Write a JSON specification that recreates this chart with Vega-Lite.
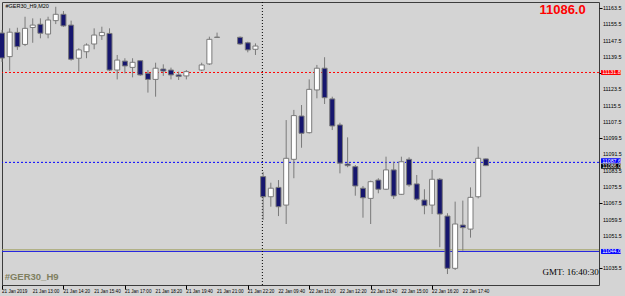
{
  "$schema": "https://vega.github.io/schema/vega-lite/v6.json",
  "width": 597,
  "height": 283,
  "autosize": "none",
  "padding": {"left": 2, "top": 2, "right": 26, "bottom": 11},
  "background": "#d4d4d4",
  "config": {
    "view": {"stroke": "#3c3c3c", "strokeWidth": 1, "fill": "#d4d4d4"},
    "font": "Liberation Sans",
    "scale": {"continuousPadding": 0},
    "axis": {"labels": false, "tickColor": "#000000", "domain": false, "grid": false, "title": null}
  },
  "datasets": {
    "bars": [
      {"i": 0, "o": 11151.2, "h": 11152.7, "l": 11137.0, "c": 11138.9},
      {"i": 1, "o": 11139.6, "h": 11153.5, "l": 11132.7, "c": 11151.6},
      {"i": 2, "o": 11151.5, "h": 11153.8, "l": 11142.9, "c": 11144.5},
      {"i": 3, "o": 11145.6, "h": 11159.2, "l": 11144.8, "c": 11153.5},
      {"i": 4, "o": 11153.9, "h": 11158.4, "l": 11146.4, "c": 11155.1},
      {"i": 5, "o": 11155.5, "h": 11158.4, "l": 11148.6, "c": 11151.1},
      {"i": 6, "o": 11150.7, "h": 11159.2, "l": 11148.6, "c": 11157.6},
      {"i": 7, "o": 11157.3, "h": 11164.1, "l": 11155.6, "c": 11160.4},
      {"i": 8, "o": 11160.4, "h": 11162.0, "l": 11154.2, "c": 11154.7},
      {"i": 9, "o": 11155.1, "h": 11157.3, "l": 11137.6, "c": 11138.3},
      {"i": 10, "o": 11138.8, "h": 11143.7, "l": 11132.2, "c": 11142.9},
      {"i": 11, "o": 11142.0, "h": 11146.1, "l": 11138.8, "c": 11145.3},
      {"i": 12, "o": 11145.8, "h": 11153.5, "l": 11143.2, "c": 11150.2},
      {"i": 13, "o": 11149.9, "h": 11154.3, "l": 11147.8, "c": 11151.5},
      {"i": 14, "o": 11151.0, "h": 11153.5, "l": 11132.5, "c": 11133.0},
      {"i": 15, "o": 11133.0, "h": 11140.4, "l": 11128.4, "c": 11137.9},
      {"i": 16, "o": 11137.4, "h": 11138.8, "l": 11131.4, "c": 11135.0},
      {"i": 17, "o": 11134.3, "h": 11138.8, "l": 11129.4, "c": 11136.8},
      {"i": 18, "o": 11137.6, "h": 11137.9, "l": 11130.1, "c": 11130.6},
      {"i": 19, "o": 11131.4, "h": 11133.0, "l": 11121.9, "c": 11128.4},
      {"i": 20, "o": 11128.4, "h": 11136.6, "l": 11119.9, "c": 11133.9},
      {"i": 21, "o": 11133.5, "h": 11135.8, "l": 11130.1, "c": 11132.5},
      {"i": 22, "o": 11133.0, "h": 11134.2, "l": 11128.4, "c": 11130.6},
      {"i": 23, "o": 11130.6, "h": 11132.2, "l": 11128.1, "c": 11129.8},
      {"i": 24, "o": 11130.1, "h": 11133.0, "l": 11128.4, "c": 11132.2},
      {"i": 26, "o": 11133.0, "h": 11136.6, "l": 11132.5, "c": 11135.5},
      {"i": 27, "o": 11136.0, "h": 11149.4, "l": 11135.5, "c": 11148.1},
      {"i": 28, "o": 11149.0, "h": 11151.4, "l": 11149.0, "c": 11149.2},
      {"i": 31, "o": 11149.1, "h": 11149.5, "l": 11145.3, "c": 11145.8},
      {"i": 32, "o": 11146.4, "h": 11146.9, "l": 11141.7, "c": 11142.9},
      {"i": 33, "o": 11143.2, "h": 11146.1, "l": 11140.4, "c": 11144.8},
      {"i": 34, "o": 11080.6, "h": 11082.9, "l": 11059.3, "c": 11070.7},
      {"i": 35, "o": 11070.7, "h": 11077.6, "l": 11065.8, "c": 11074.9},
      {"i": 36, "o": 11075.3, "h": 11078.9, "l": 11061.2, "c": 11065.8},
      {"i": 37, "o": 11066.6, "h": 11108.4, "l": 11057.3, "c": 11089.6},
      {"i": 38, "o": 11089.1, "h": 11113.4, "l": 11079.8, "c": 11110.6},
      {"i": 39, "o": 11110.4, "h": 11115.8, "l": 11094.8, "c": 11101.9},
      {"i": 40, "o": 11102.2, "h": 11128.4, "l": 11101.8, "c": 11123.5},
      {"i": 41, "o": 11123.2, "h": 11135.5, "l": 11119.1, "c": 11133.9},
      {"i": 42, "o": 11133.9, "h": 11139.3, "l": 11116.3, "c": 11119.4},
      {"i": 43, "o": 11118.8, "h": 11119.9, "l": 11103.5, "c": 11105.5},
      {"i": 44, "o": 11106.0, "h": 11107.1, "l": 11082.2, "c": 11087.2},
      {"i": 45, "o": 11086.8, "h": 11099.9, "l": 11085.2, "c": 11086.0},
      {"i": 46, "o": 11085.5, "h": 11086.3, "l": 11071.2, "c": 11076.0},
      {"i": 47, "o": 11074.9, "h": 11076.0, "l": 11060.4, "c": 11070.2},
      {"i": 48, "o": 11069.9, "h": 11078.6, "l": 11057.3, "c": 11078.1},
      {"i": 49, "o": 11078.9, "h": 11079.8, "l": 11072.4, "c": 11074.4},
      {"i": 50, "o": 11074.4, "h": 11090.4, "l": 11074.0, "c": 11083.9},
      {"i": 51, "o": 11083.9, "h": 11087.9, "l": 11069.6, "c": 11071.1},
      {"i": 52, "o": 11071.9, "h": 11090.4, "l": 11071.6, "c": 11087.9},
      {"i": 53, "o": 11089.1, "h": 11090.1, "l": 11075.6, "c": 11076.5},
      {"i": 54, "o": 11077.0, "h": 11081.4, "l": 11068.8, "c": 11069.5},
      {"i": 55, "o": 11069.1, "h": 11074.4, "l": 11062.1, "c": 11066.3},
      {"i": 56, "o": 11066.6, "h": 11083.9, "l": 11062.2, "c": 11079.3},
      {"i": 57, "o": 11079.3, "h": 11079.9, "l": 11045.9, "c": 11062.2},
      {"i": 58, "o": 11061.2, "h": 11062.6, "l": 11032.7, "c": 11035.5},
      {"i": 59, "o": 11035.5, "h": 11068.3, "l": 11034.7, "c": 11057.3},
      {"i": 60, "o": 11056.8, "h": 11068.8, "l": 11044.2, "c": 11055.5},
      {"i": 61, "o": 11054.8, "h": 11075.3, "l": 11050.6, "c": 11070.4},
      {"i": 62, "o": 11070.7, "h": 11095.3, "l": 11069.9, "c": 11089.6},
      {"i": 63, "o": 11089.3, "h": 11089.5, "l": 11085.8, "c": 11086.0}
    ],
    "xlabels": [
      {"i": 0, "t": "21 Jan 2019"},
      {"i": 4, "t": "21 Jan 13:00"},
      {"i": 8, "t": "21 Jan 14:20"},
      {"i": 12, "t": "21 Jan 15:40"},
      {"i": 16, "t": "21 Jan 17:00"},
      {"i": 20, "t": "21 Jan 18:20"},
      {"i": 24, "t": "21 Jan 19:40"},
      {"i": 28, "t": "21 Jan 21:00"},
      {"i": 32, "t": "21 Jan 22:20"},
      {"i": 36, "t": "22 Jan 09:40"},
      {"i": 40, "t": "22 Jan 11:00"},
      {"i": 44, "t": "22 Jan 12:20"},
      {"i": 48, "t": "22 Jan 13:40"},
      {"i": 52, "t": "22 Jan 15:00"},
      {"i": 56, "t": "22 Jan 16:20"},
      {"i": 60, "t": "22 Jan 17:40"}
    ],
    "ylabels": [
      {"p": 11035.5}, {"p": 11051.5}, {"p": 11059.5}, {"p": 11067.5}, {"p": 11075.5},
      {"p": 11083.5}, {"p": 11091.5}, {"p": 11099.5}, {"p": 11107.5}, {"p": 11115.5},
      {"p": 11123.5}, {"p": 11139.5}, {"p": 11147.5}, {"p": 11155.5}, {"p": 11163.5}
    ],
    "hlines": [
      {"p": 11131.8, "kind": "red"},
      {"p": 11087.6, "kind": "blue"}
    ],
    "solid": [
      {"p": 11044.6, "kind": "olive"},
      {"p": 11043.8, "kind": "bluesolid"}
    ],
    "boxes": [
      {"p": 11131.8, "label": "11131.8", "kind": "red"},
      {"p": 11088.4, "label": "11087.6", "kind": "blue"},
      {"p": 11085.7, "label": "11086.0", "kind": "black"},
      {"p": 11043.8, "label": "11044.0", "kind": "bluesolid"}
    ]
  },
  "layer": [
    {
      "data": {"name": "hlines"},
      "mark": {"type": "rule", "strokeDash": [2, 2], "strokeWidth": 1},
      "encoding": {
        "y": {
          "field": "p", "type": "quantitative",
          "scale": {"domain": [11027.31, 11166.45], "nice": false, "zero": false, "padding": 0},
          "axis": {
            "orient": "right",
            "values": [11035.5, 11043.5, 11051.5, 11059.5, 11067.5, 11075.5, 11083.5, 11091.5, 11099.5, 11107.5, 11115.5, 11123.5, 11131.5, 11139.5, 11147.5, 11155.5, 11163.5],
            "labels": false,
            "tickSize": 3
          }
        },
        "color": {"field": "kind", "type": "nominal", "scale": {"domain": ["red", "blue"], "range": ["#ff0000", "#0000ff"]}, "legend": null}
      }
    },
    {
      "data": {"name": "solid"},
      "mark": {"type": "rule", "strokeWidth": 1},
      "encoding": {
        "y": {"field": "p", "type": "quantitative"},
        "stroke": {"field": "kind", "type": "nominal", "scale": {"domain": ["olive", "bluesolid"], "range": ["#a0a060", "#2020e0"]}, "legend": null}
      }
    },
    {
      "data": {"values": [{"i": 33.9}]},
      "mark": {"type": "rule", "color": "#000000", "strokeDash": [1, 2], "strokeWidth": 1},
      "encoding": {
        "x": {
          "field": "i", "type": "quantitative",
          "scale": {"domain": [0, 77.73], "nice": false, "zero": false, "padding": 0},
          "axis": {
            "orient": "bottom",
            "values": [0, 4, 8, 12, 16, 20, 24, 28, 32, 36, 40, 44, 48, 52, 56, 60],
            "labels": false,
            "tickSize": 4
          }
        }
      }
    },
    {
      "data": {"name": "bars"},
      "mark": {"type": "rule", "color": "#7a7a7a", "strokeWidth": 1},
      "encoding": {
        "x": {"field": "i", "type": "quantitative"},
        "y": {"field": "l", "type": "quantitative"},
        "y2": {"field": "h"}
      }
    },
    {
      "data": {"name": "bars"},
      "mark": {"type": "bar", "width": 5, "stroke": "#7a7a7a", "strokeWidth": 1},
      "encoding": {
        "x": {"field": "i", "type": "quantitative"},
        "y": {"field": "o", "type": "quantitative"},
        "y2": {"field": "c"},
        "fill": {"condition": {"test": "datum.c >= datum.o", "value": "#ffffff"}, "value": "#16166e"}
      }
    },
    {
      "data": {"name": "xlabels"},
      "mark": {"type": "text", "align": "left", "baseline": "top", "fontSize": 4.6, "color": "#000000", "dy": 4, "dx": 0, "clip": false},
      "encoding": {
        "x": {"field": "i", "type": "quantitative"},
        "y": {"datum": 11027.31, "type": "quantitative"},
        "text": {"field": "t"}
      }
    },
    {
      "data": {"name": "ylabels"},
      "mark": {"type": "text", "align": "left", "baseline": "middle", "fontSize": 5.3, "color": "#000000", "dx": 4, "clip": false},
      "encoding": {
        "x": {"datum": 77.73, "type": "quantitative"},
        "y": {"field": "p", "type": "quantitative"},
        "text": {"field": "p", "type": "quantitative", "format": ".1f"}
      }
    },
    {
      "data": {"name": "boxes"},
      "mark": {"type": "bar", "orient": "horizontal", "height": 5, "clip": false},
      "encoding": {
        "x": {"datum": 78.0, "type": "quantitative"},
        "x2": {"datum": 80.55},
        "y": {"field": "p", "type": "quantitative"},
        "fill": {"field": "kind", "type": "nominal", "scale": {"domain": ["red", "blue", "black", "bluesolid"], "range": ["#ff0000", "#0000ff", "#000000", "#0000ff"]}, "legend": null}
      }
    },
    {
      "data": {"name": "boxes"},
      "mark": {"type": "text", "align": "left", "baseline": "middle", "fontSize": 5.3, "color": "#ffffff", "clip": false},
      "encoding": {
        "x": {"datum": 78.15, "type": "quantitative"},
        "y": {"field": "p", "type": "quantitative"},
        "text": {"field": "label"}
      }
    },
    {
      "data": {"values": [
        {"x": 0.45, "y": 11164.7, "t": "#GER30_H9,M20"}
      ]},
      "mark": {"type": "text", "align": "left", "baseline": "middle", "fontSize": 5.5, "color": "#000000"},
      "encoding": {"x": {"field": "x", "type": "quantitative"}, "y": {"field": "y", "type": "quantitative"}, "text": {"field": "t"}}
    },
    {
      "data": {"values": [
        {"x": 76.0, "y": 11162.6, "t": "11086.0"}
      ]},
      "mark": {"type": "text", "align": "right", "baseline": "middle", "fontSize": 13, "fontWeight": "bold", "color": "#ff0000", "font": "Liberation Sans"},
      "encoding": {"x": {"field": "x", "type": "quantitative"}, "y": {"field": "y", "type": "quantitative"}, "text": {"field": "t"}}
    },
    {
      "data": {"values": [
        {"x": 0.35, "y": 11031.0, "t": "#GER30_H9"}
      ]},
      "mark": {"type": "text", "align": "left", "baseline": "middle", "fontSize": 9.5, "fontWeight": "bold", "color": "#808060"},
      "encoding": {"x": {"field": "x", "type": "quantitative"}, "y": {"field": "y", "type": "quantitative"}, "text": {"field": "t"}}
    },
    {
      "data": {"values": [
        {"x": 77.7, "y": 11033.6, "t": "GMT:  16:40:30"}
      ]},
      "mark": {"type": "text", "align": "right", "baseline": "middle", "fontSize": 9, "font": "Liberation Serif", "color": "#000000"},
      "encoding": {"x": {"field": "x", "type": "quantitative"}, "y": {"field": "y", "type": "quantitative"}, "text": {"field": "t"}}
    }
  ]
}
